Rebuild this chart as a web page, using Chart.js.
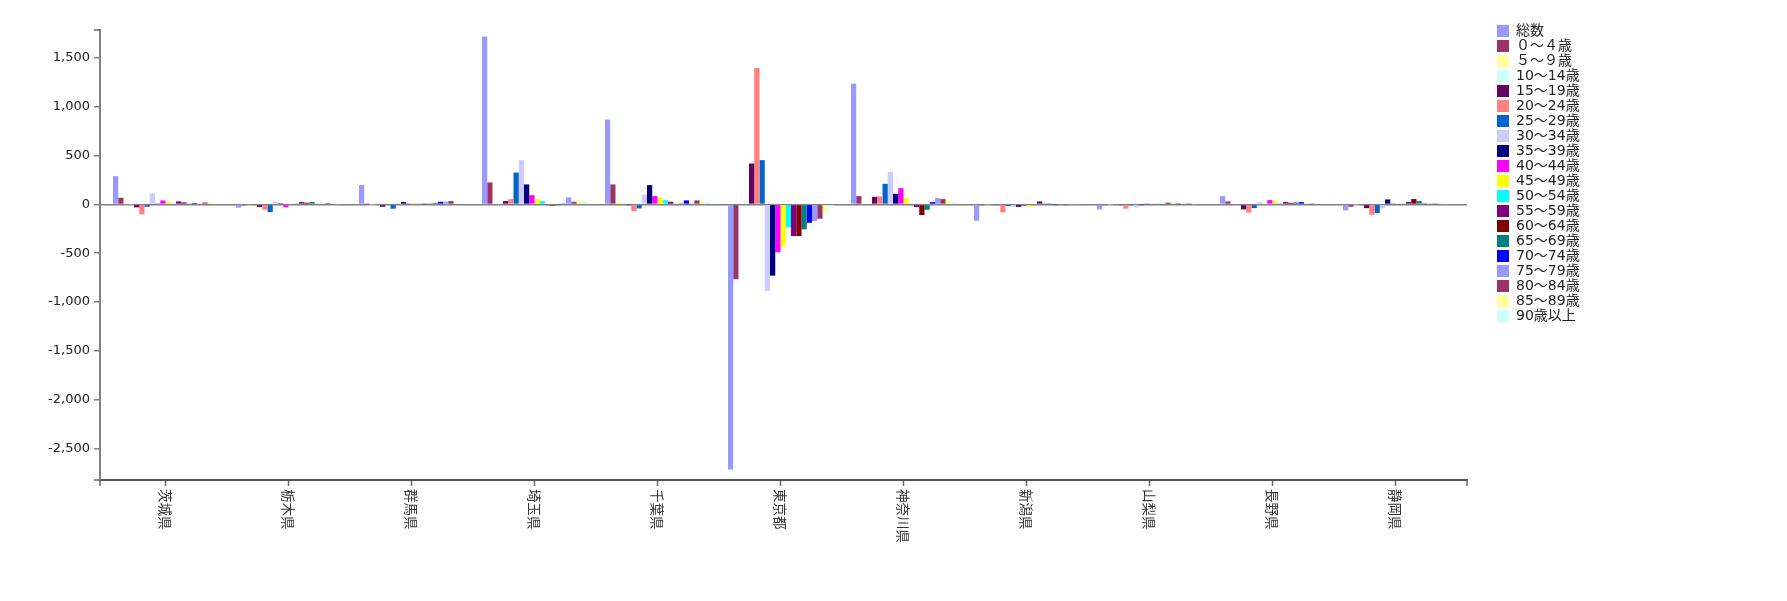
<!DOCTYPE html>
<html>
<head>
<meta charset="utf-8">
<script src="https://cdn.jsdelivr.net/npm/chart.js@4.4.1/dist/chart.umd.min.js"></script>
<style>
html,body{margin:0;padding:0;background:#fff;}
#wrap{width:1787px;height:601px;position:relative;}
canvas{display:block;}
</style>
</head>
<body>
<div id="wrap"><canvas id="c" width="1787" height="601"></canvas></div>
<script>
// ---- data ----
const prefectures = ['茨城県','栃木県','群馬県','埼玉県','千葉県','東京都','神奈川県','新潟県','山梨県','長野県','静岡県'];
const seriesNames = ['総数','０～４歳','５～９歳','10～14歳','15～19歳','20～24歳','25～29歳','30～34歳','35～39歳','40～44歳','45～49歳','50～54歳','55～59歳','60～64歳','65～69歳','70～74歳','75～79歳','80～84歳','85～89歳','90歳以上'];
const seriesColors = ['#9999ff','#993366','#ffff99','#ccffff','#660066','#ff8080','#0066cc','#ccccff','#000080','#ff00ff','#ffff00','#00ffff','#800080','#800000','#008080','#0000ff','#9999ff','#993366','#ffff99','#ccffff'];

const total   = [290, -34, 198, 1722, 870, -2718, 1238, -167, -51, 85, -61];
const age0_4  = [68, -10, 3, 225, 205, -767, 85, -3, -5, 31, -24];
const age5_9  = [-5, -5, -2, 10, 34, -10, 5, -3, -3, 10, -3];
const age10_14 = [2, 0, 0, 3, 20, 34, 10, 0, 0, 0, 0];
const age15_19 = [-30, -27, -24, 34, -3, 419, 78, -5, -5, -51, -38];
const age20_24 = [-102, -55, -8, 55, -68, 1398, 82, -82, -44, -85, -106];
const age25_29 = [-24, -78, -44, 327, -41, 454, 211, -17, -3, -38, -89];
const age30_34 = [112, 27, 14, 453, 102, -887, 334, -24, -31, 24, -38];
const age35_39 = [10, 12, 24, 205, 198, -730, 109, -24, -3, 0, 51];
const age40_44 = [41, -30, 3, 95, 85, -491, 167, -14, 3, 44, 3];
const age45_49 = [24, 0, 14, 55, 72, -433, 68, -27, 10, 34, 10];
const age50_54 = [10, 12, 3, 34, 44, -235, 10, 0, 3, 10, 10];
const age55_59 = [31, 24, 3, -5, 27, -324, -27, 31, -7, 24, 24];
const age60_64 = [20, 17, 10, -14, 7, -324, -109, 10, 17, 17, 55];
const age65_69 = [10, 24, 14, -5, 3, -256, -55, 3, 10, 20, 34];
const age70_74 = [14, 7, 27, 5, 41, -188, 24, -3, 3, 24, 3];
const age75_79 = [10, 5, 27, 72, 3, -170, 65, -3, 0, 10, 3];
const age80_84 = [20, 14, 34, 27, 41, -147, 55, -3, 3, 3, 3];
const age85_89 = [17, 7, 20, 41, 34, -85, 44, 3, 3, 0, 14];
const age90p  = [10, 3, 14, 34, 20, -31, 20, 3, 0, 0, 3];

const seriesValues = [total, age0_4, age5_9, age10_14, age15_19, age20_24, age25_29, age30_34, age35_39, age40_44, age45_49, age50_54, age55_59, age60_64, age65_69, age70_74, age75_79, age80_84, age85_89, age90p];

const yTicks = [1500, 1000, 500, 0, -500, -1000, -1500, -2000, -2500];
const yMin = -2825, yMax = 1788;

// ---- layout helpers ----
const W = 1787;
const plotRight = 1467;
const legendGap = 29;
const legendFontFamily = '"DejaVu Sans", "Noto Sans CJK JP", sans-serif';
const legendFontSize = 14;
const mctx = document.createElement('canvas').getContext('2d');
mctx.font = legendFontSize + 'px ' + legendFontFamily;
const maxLabelW = Math.max(...seriesNames.map(n => mctx.measureText(n).width));
const legendW = 1 + 12 + legendFontSize / 2 + maxLabelW + 10;
const padRight = W - plotRight - legendGap - legendW;

const datasets = seriesNames.map((name, i) => ({
  label: name,
  data: seriesValues[i],
  backgroundColor: seriesColors[i],
  borderColor: seriesColors[i],
  borderWidth: 0,
  xAxisID: 'x',
  yAxisID: 'y',
  categoryPercentage: 0.854,
  barPercentage: 1.0
}));

const axisPlugin = {
  id: 'axisExtras',
  afterLayout(chart) {
    const s = chart.scales.x;
    s._startPixel = s.left + 4;
    s._endPixel = s.right - 10;
    s._length = s._endPixel - s._startPixel;
  },
  afterDraw(chart) {
    const ctx = chart.ctx, s = chart.scales.x, ca = chart.chartArea;
    ctx.save();
    ctx.font = '13.5px "Noto Sans CJK JP", sans-serif';
    ctx.fillStyle = '#333';
    ctx.textBaseline = 'middle';
    ctx.textAlign = 'left';
    chart.data.labels.forEach((lab, i) => {
      const x = s.getPixelForTick(i);
      ctx.save();
      ctx.translate(x, ca.bottom + 9);
      ctx.rotate(Math.PI / 2);
      ctx.fillText(lab, 0, 0);
      ctx.restore();
    });
    ctx.strokeStyle = '#666';
    ctx.lineWidth = 1.5;
    ctx.beginPath();
    ctx.moveTo(ca.left, ca.bottom); ctx.lineTo(ca.left, ca.bottom + 6);
    ctx.moveTo(ca.right, ca.bottom); ctx.lineTo(ca.right, ca.bottom + 6);
    ctx.moveTo(ca.left - 6, ca.bottom); ctx.lineTo(ca.left, ca.bottom);
    ctx.moveTo(ca.left - 6, ca.top); ctx.lineTo(ca.left, ca.top);
    ctx.stroke();
    ctx.restore();
  }
};

new Chart(document.getElementById('c'), {
  type: 'bar',
  data: { labels: prefectures, datasets },
  options: {
    responsive: false,
    animation: false,
    devicePixelRatio: 1,
    layout: { padding: { top: 23, left: 0, bottom: 0, right: padRight } },
    plugins: {
      tooltip: { enabled: false },
      title: { display: false },
      legend: {
        display: true,
        position: 'right',
        align: 'start',
        labels: {
          boxWidth: 12,
          boxHeight: 12,
          padding: 1,
          color: '#222',
          font: { family: legendFontFamily, size: legendFontSize }
        }
      }
    },
    scales: {
      x: {
        type: 'category',
        position: 'bottom',
        offset: true,
        afterFit: s => { s.height = 121; },
        grid: { display: true, drawOnChartArea: false, drawTicks: true, tickLength: 6, tickColor: '#666', tickWidth: 1.5, offset: false },
        border: { display: true, color: '#555', width: 2 },
        ticks: { display: false, autoSkip: false }
      },
      topGap: {
        type: 'linear',
        position: 'top',
        display: true,
        afterFit: s => { s.height = 7; },
        grid: { display: false },
        border: { display: false },
        ticks: { display: false }
      },
      y: {
        type: 'linear',
        position: 'left',
        min: yMin,
        max: yMax,
        z: 1,
        afterBuildTicks: s => { s.ticks = yTicks.map(v => ({ value: v })); },
        afterFit: s => { s.width = 100; },
        grid: {
          display: true,
          drawOnChartArea: true,
          drawTicks: true,
          tickLength: 6,
          tickColor: '#808080',
          tickWidth: 1.5,
          lineWidth: 1.5,
          color: c => (c.tick && c.tick.value === 0) ? '#808080' : 'rgba(0,0,0,0)'
        },
        border: { display: true, color: '#808080', width: 2 },
        ticks: {
          color: '#222',
          padding: 4,
          font: { family: '"DejaVu Sans", sans-serif', size: 13 },
          callback: v => Number(v).toLocaleString('en-US')
        }
      },
      gap: {
        type: 'linear',
        position: 'right',
        display: true,
        afterFit: s => { s.width = legendGap; },
        grid: { display: false },
        border: { display: false },
        ticks: { display: false }
      }
    }
  },
  plugins: [axisPlugin]
});
</script>
</body>
</html>
